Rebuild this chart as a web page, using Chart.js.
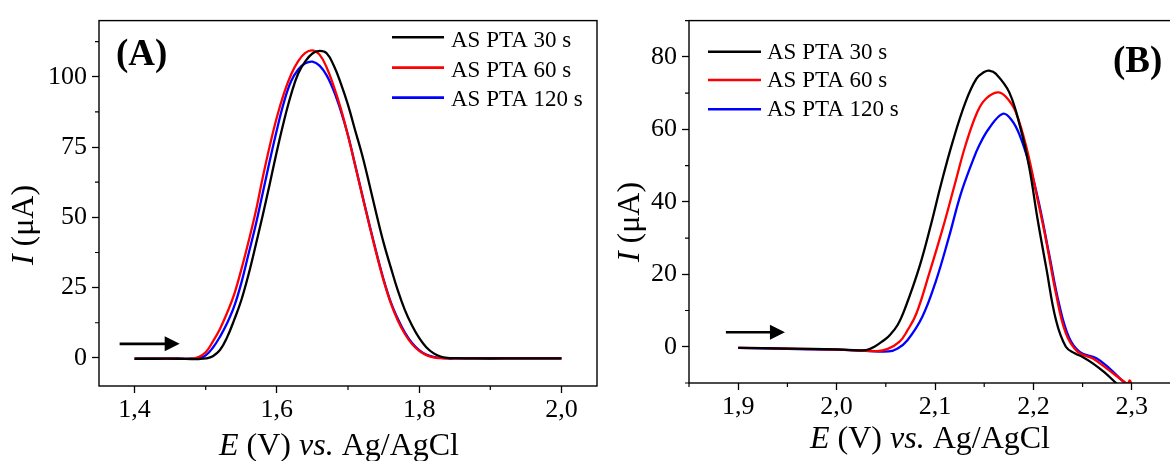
<!DOCTYPE html>
<html><head><meta charset="utf-8">
<script src="https://cdn.jsdelivr.net/npm/chart.js@4.4.1/dist/chart.umd.min.js"></script>
<style>
html,body{margin:0;padding:0;background:#fff;overflow:hidden;width:1170px;height:461px;}
#wrapA{position:absolute;left:0;top:0;width:600px;height:461px;}
#wrapB{position:absolute;left:600px;top:0;width:600px;height:461px;}
canvas{display:block;}
</style></head><body>
<div id="wrapA"><canvas id="cA" width="600" height="461"></canvas></div>
<div id="wrapB"><canvas id="cB" width="600" height="461"></canvas></div>
<script>
// ---------- data ----------
const seriesLabels = ['AS PTA 30 s', 'AS PTA 60 s', 'AS PTA 120 s'];
const seriesColors = ['#000000', '#ff0000', '#0000ff'];

// Panel A : common potential grid (V)
const xA = [1.40,1.43,1.46,1.48,1.49,1.50,1.51,1.52,1.53,1.54,1.55,1.56,1.57,1.58,1.59,1.60,1.61,1.62,1.63,1.64,1.65,1.66,1.67,1.68,1.69,1.70,1.71,1.72,1.73,1.74,1.75,1.76,1.77,1.78,1.79,1.80,1.81,1.82,1.83,1.84,1.85,1.88,1.92,1.96,2.00];
const yA30 = [-0.3,-0.3,-0.3,-0.4,-0.4,-0.2,0.6,2.8,7.3,13.5,20.5,29.5,39.8,50.6,61.9,73.5,84.3,93.7,101.2,105.5,108.3,109.2,108.4,104.0,97.6,90.0,81.0,72.1,61.8,51.1,41.0,32.3,24.0,17.0,11.5,7.1,3.8,1.7,0.5,0.0,-0.1,-0.2,-0.2,-0.2,-0.2];
const yA60 = [-0.3,-0.3,-0.3,-0.3,0.3,2.0,5.8,10.3,16.0,22.6,31.4,41.2,51.7,64.0,75.4,85.6,94.1,100.8,105.6,108.5,109.4,107.9,103.3,96.6,88.6,79.0,68.5,57.8,47.2,37.0,27.6,19.6,13.3,8.5,4.9,2.5,1.0,0.2,-0.1,-0.2,-0.2,-0.2,-0.2,-0.2,-0.2];
const yA120 = [-0.3,-0.3,-0.3,-0.3,-0.1,0.9,3.6,7.5,12.3,18.3,26.6,36.8,47.0,58.5,70.1,81.1,91.0,98.4,102.6,104.8,105.4,104.0,100.5,95.0,87.8,79.2,68.7,58.0,47.5,37.4,27.9,19.9,13.9,9.0,5.3,2.8,1.2,0.4,0.0,-0.2,-0.2,-0.2,-0.2,-0.2,-0.2];
const xTicksA = [1.4, 1.6, 1.8, 2.0];
const xTickLabelsA = ['1,4', '1,6', '1,8', '2,0'];
const xMinorA = [1.5, 1.7, 1.9];
const yTicksA = [0, 25, 50, 75, 100];
const yTickLabelsA = ['0', '25', '50', '75', '100'];
const yMinorA = [12.5, 37.5, 62.5, 87.5, 112.5];

// Panel B : each series has its own potential points (V)
const xB30 = [1.90,1.95,2.00,2.03,2.040,2.047,2.053,2.062,2.070,2.084,2.096,2.106,2.118,2.131,2.142,2.150,2.155,2.162,2.1755,2.187,2.196,2.204,2.213,2.223,2.233,2.242,2.250,2.260,2.272,2.284,2.295];
const yB30 = [-0.3,-0.5,-0.7,-0.9,0.3,1.6,2.9,6.0,10.9,21.9,33.8,44.7,56.6,67.5,73.9,75.8,76.2,75.3,70.2,60.2,49.2,35.6,21.9,7.3,0.0,-1.8,-2.8,-4.5,-7.0,-10.0,-12.5];
const xB60 = [1.90,1.95,2.00,2.041,2.052,2.064,2.072,2.081,2.094,2.108,2.120,2.131,2.143,2.152,2.1636,2.172,2.182,2.194,2.204,2.213,2.223,2.233,2.245,2.260,2.274,2.294,2.296,2.298,2.300];
const yB60 = [-0.3,-0.5,-0.8,-1.2,-0.6,1.4,4.5,9.1,20.1,32.8,44.7,55.6,64.8,68.5,70.2,69.0,64.8,53.8,41.0,29.2,14.6,3.7,-1.4,-3.2,-5.9,-10.0,-10.2,-9.3,-10.6];
const xB120 = [1.90,1.95,2.00,2.03,2.053,2.062,2.072,2.087,2.101,2.114,2.126,2.138,2.145,2.155,2.169,2.178,2.186,2.196,2.206,2.216,2.226,2.236,2.247,2.264,2.277,2.293,2.300];
const yB120 = [-0.3,-0.6,-0.8,-1.1,-1.3,-0.5,1.8,8.2,18.2,30.1,42.0,51.1,55.6,60.3,64.3,62.5,58.4,50.2,39.2,25.5,11.9,2.7,-1.4,-3.2,-5.9,-10.0,-11.0];
const xTicksB = [1.9, 2.0, 2.1, 2.2, 2.3];
const xTickLabelsB = ['1,9', '2,0', '2,1', '2,2', '2,3'];
const xMinorB = [1.85, 1.95, 2.05, 2.15, 2.25, 2.35];
const yTicksB = [0, 20, 40, 60, 80];
const yTickLabelsB = ['0', '20', '40', '60', '80'];
const yMinorB = [-10, 10, 30, 50, 70, 90];

// ---------- helpers ----------
const FF = "'Liberation Serif', 'Times New Roman', serif";
function fontStr(seg, size) {
  return (seg.i ? 'italic ' : '') + (seg.b ? 'bold ' : '') + size + 'px ' + FF;
}
function drawRich(ctx, segs, size, cx, cy, rot) {
  ctx.save();
  ctx.translate(cx, cy);
  ctx.rotate(rot);
  ctx.fillStyle = '#000';
  ctx.textBaseline = rot ? 'middle' : 'alphabetic';
  ctx.textAlign = 'left';
  let w = 0;
  for (const s of segs) { ctx.font = fontStr(s, size); w += ctx.measureText(s.t).width; }
  let x = -w / 2;
  for (const s of segs) { ctx.font = fontStr(s, size); ctx.fillText(s.t, x, 0); x += ctx.measureText(s.t).width; }
  ctx.restore();
}
const xTitle = [{t: 'E', i: true}, {t: ' (V) '}, {t: 'vs.', i: true}, {t: ' Ag/AgCl'}];
const yTitle = [{t: 'I', i: true}, {t: ' (\u03bcA)'}];

function decoPlugin(spec) {
  return {
    id: 'deco',
    afterDraw(chart) {
      const ctx = chart.ctx, a = chart.chartArea;
      const xs = chart.scales.x, ys = chart.scales.y;
      ctx.save();
      // frame
      ctx.strokeStyle = '#000'; ctx.lineWidth = 1.4;
      ctx.strokeRect(a.left, a.top, a.right - a.left, a.bottom - a.top);
      // minor ticks
      ctx.lineWidth = 1.2;
      ctx.beginPath();
      for (const v of spec.xMinor) { const p = xs.getPixelForValue(v); ctx.moveTo(p, a.bottom); ctx.lineTo(p, a.bottom + 4); }
      for (const v of spec.yMinor) { const p = ys.getPixelForValue(v); ctx.moveTo(a.left, p); ctx.lineTo(a.left - 4, p); }
      ctx.stroke();
      // arrow
      const ar = spec.arrow;
      const x0 = xs.getPixelForValue(ar.x0), x1 = xs.getPixelForValue(ar.x1), y = ys.getPixelForValue(ar.y);
      ctx.fillStyle = '#000'; ctx.strokeStyle = '#000'; ctx.lineWidth = 2.6;
      ctx.beginPath(); ctx.moveTo(x0, y); ctx.lineTo(x1 - 12, y); ctx.stroke();
      ctx.beginPath(); ctx.moveTo(x1, y); ctx.lineTo(x1 - 15, y - 7.5); ctx.lineTo(x1 - 15, y + 7.5); ctx.closePath(); ctx.fill();
      // legend
      const L = spec.legend;
      chart.data.datasets.forEach((ds, k) => {
        ctx.strokeStyle = ds.borderColor; ctx.lineWidth = 2.6;
        ctx.beginPath(); ctx.moveTo(L.x0, L.lineY[k]); ctx.lineTo(L.x1, L.lineY[k]); ctx.stroke();
        ctx.fillStyle = '#000'; ctx.font = '23px ' + FF; ctx.textBaseline = 'alphabetic'; ctx.textAlign = 'left';
        ctx.fillText(ds.label, L.tx, L.textY[k]);
      });
      // panel label
      ctx.font = 'bold 37px ' + FF; ctx.fillStyle = '#000'; ctx.textBaseline = 'alphabetic';
      ctx.fillText(spec.panel.t, spec.panel.x, spec.panel.y);
      // axis titles
      drawRich(ctx, xTitle, 32, spec.xt.x, spec.xt.y, 0);
      drawRich(ctx, yTitle, 32, spec.yt.x, spec.yt.y, -Math.PI / 2);
      ctx.restore();
    }
  };
}

function makeChart(id, datasets, cfg) {
  return new Chart(document.getElementById(id), {
    type: 'line',
    data: { datasets: datasets.map((d, k) => ({
      label: seriesLabels[k],
      data: d.x.map((x, i) => ({x: x, y: d.y[i]})),
      borderColor: seriesColors[k],
      borderWidth: 2.3,
      pointRadius: 0,
      fill: false,
      tension: 0.4
    })) },
    options: {
      responsive: false, animation: false, devicePixelRatio: 1,
      layout: { padding: cfg.padding },
      plugins: { legend: { display: false }, tooltip: { enabled: false } },
      scales: {
        x: {
          type: 'linear', min: cfg.xMin, max: cfg.xMax,
          afterBuildTicks: s => { s.ticks = cfg.xTicks.map(v => ({value: v})); },
          afterFit: s => { s.height = cfg.xH; },
          ticks: { callback: (v, i) => cfg.xLabels[i], font: { family: FF, size: 26 }, color: '#000', padding: 2, maxRotation: 0, autoSkip: false },
          grid: { drawOnChartArea: false, drawTicks: true, tickLength: 7, tickColor: '#000', tickWidth: 1.3 },
          border: { display: false }
        },
        y: {
          type: 'linear', min: cfg.yMin, max: cfg.yMax,
          afterBuildTicks: s => { s.ticks = cfg.yTicks.map(v => ({value: v})); },
          afterFit: s => { s.width = cfg.yW; },
          ticks: { callback: (v, i) => cfg.yLabels[i], font: { family: FF, size: 26 }, color: '#000', padding: 5, autoSkip: false },
          grid: { drawOnChartArea: false, drawTicks: true, tickLength: 7, tickColor: '#000', tickWidth: 1.3 },
          border: { display: false }
        }
      }
    },
    plugins: [decoPlugin(cfg.deco)]
  });
}

makeChart('cA', [{x: xA, y: yA30}, {x: xA, y: yA60}, {x: xA, y: yA120}], {
  padding: {top: 13, right: 3, left: 0, bottom: 0},
  xMin: 1.35, xMax: 2.05, yMin: -10, yMax: 120,
  xTicks: xTicksA, xLabels: xTickLabelsA, yTicks: yTicksA, yLabels: yTickLabelsA,
  xH: 75, yW: 99,
  deco: {
    xMinor: xMinorA, yMinor: yMinorA,
    arrow: {x0: 1.379, x1: 1.4634, y: 5.0},
    legend: {x0: 392, x1: 444, tx: 451, lineY: [37.3, 67.6, 97.6], textY: [46.7, 76.7, 106]},
    panel: {t: '(A)', x: 116, y: 65},
    xt: {x: 339, y: 455}, yt: {x: 25, y: 225}
  }
});

makeChart('cB', [{x: xB30, y: yB30}, {x: xB60, y: yB60}, {x: xB120, y: yB120}], {
  padding: {top: 18, right: 19, left: 0, bottom: 0},
  xMin: 1.85, xMax: 2.35, yMin: -10, yMax: 90,
  xTicks: xTicksB, xLabels: xTickLabelsB, yTicks: yTicksB, yLabels: yTickLabelsB,
  xH: 78, yW: 89,
  deco: {
    xMinor: xMinorB, yMinor: yMinorB,
    arrow: {x0: 1.8875, x1: 1.9475, y: 4.0},
    legend: {x0: 108, x1: 161, tx: 167, lineY: [51.7, 80, 109.3], textY: [59.3, 87.3, 116]},
    panel: {t: '(B)', x: 513, y: 71.7},
    xt: {x: 330, y: 448}, yt: {x: 31, y: 222}
  }
});
</script>
</body></html>
